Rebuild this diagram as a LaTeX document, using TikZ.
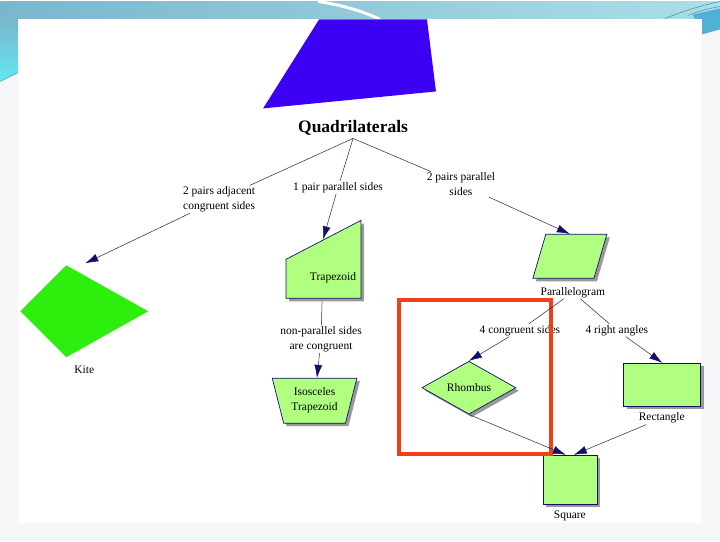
\documentclass[tikz,border=0pt]{standalone}
\usepackage{fontspec}
\setmainfont{Liberation Serif}
\usetikzlibrary{shapes.geometric, arrows.meta, shadows}
\definecolor{navy}{RGB}{16,16,106}
\definecolor{leaf}{RGB}{176,255,128}
\definecolor{kitegreen}{RGB}{45,238,12}
\definecolor{quadblue}{RGB}{60,0,245}
\definecolor{hilite}{RGB}{240,64,24}
\definecolor{bandA}{RGB}{122,182,206}
\definecolor{bandB}{RGB}{172,222,232}
\definecolor{cyanside}{RGB}{96,232,244}
\definecolor{cornerblue}{RGB}{80,176,214}
\definecolor{pagegray}{RGB}{244,246,247}
\definecolor{edgegray}{RGB}{36,36,72}

\tikzset{
  shapebox/.style={draw=navy, fill=leaf, line width=0.7pt, inner sep=0pt,
    drop shadow={shadow xshift=3pt, shadow yshift=-3pt, fill=black!40, opacity=1}},
  lbl/.style={align=center, font=\fontsize{11.5}{15}\selectfont, inner sep=1pt},
  conn/.style={edgegray, line width=0.5pt},
  arr/.style={conn, -{Latex[length=13pt, width=8pt, color=navy]}}
}

\begin{document}
\begin{tikzpicture}[x=1pt, y=-1pt]
      % slide background
      \fill[pagegray] (0,0) rectangle (720,540);
      \shade[left color=bandA, right color=bandB] (0,0) rectangle (720,18);
      \shade[top color=bandA, bottom color=cyanside] (0,18) -- (18,18) -- (18,71) -- (0,80) -- cycle;
      \draw[teal!70, line width=0.6pt] (0,80) -- (18,71);
      \draw[white, line width=3pt] (318,0) .. controls (345,4) and (366,11) .. (380,18);
      \fill[cornerblue] (693,13) -- (720,7) -- (720,28) -- (702,33) -- cycle;
      \draw[cornerblue!80!black, line width=0.5pt] (665,17) .. controls (685,9) and (702,4) .. (720,0);
      \draw[cornerblue!80!black, line width=0.5pt] (688,14) .. controls (700,9) and (710,7) .. (720,5);
      \fill[white] (18,18) rectangle (702,522);

      % shapes
      \fill[quadblue] (319,18) -- (427,18) -- (436,90) -- (263,107) -- cycle;
      \node[font=\bfseries\fontsize{17.5}{20}\selectfont] (quad) at (353,126) {Quadrilaterals};

      \fill[kitegreen] (20,310) -- (66,264) -- (148,310) -- (66,356) -- cycle;
      \node[lbl] (kitel) at (84,369) {Kite};
      \coordinate (kitetip) at (85,262);

      \filldraw[shapebox] (286,258) -- (361,219) -- (361,297) -- (286,297) -- cycle;
      \node[lbl] (trap) at (333,276) {Trapezoid};
      \coordinate (traptop) at (323,238);
      \coordinate (trapbot) at (322,300);

      \node[shapebox, trapezium, trapezium left angle=72, trapezium right angle=72, shape border rotate=180,
            trapezium stretches=true, minimum width=85pt, minimum height=45pt, lbl] (iso) at (314.5,399.5) {Isosceles\\Trapezoid};

      \node[shapebox, trapezium, trapezium left angle=75, trapezium right angle=105, inner sep=2pt,
            trapezium stretches=true, minimum width=74pt, minimum height=44pt] (para) at (570,255) {};
      \node[lbl] (parl) at (573,291) {Parallelogram};

      \node[shapebox, diamond, aspect=1.77, minimum width=94pt, minimum height=53pt, lbl] (rhomb) at (469,386.5) {Rhombus};
      \node[shapebox, rectangle, minimum width=77pt, minimum height=43pt] (rect) at (662.5,383.5) {};
      \node[lbl] (rectl) at (662,417) {Rectangle};
      \node[shapebox, rectangle, minimum width=54pt, minimum height=49pt] (sq) at (570,478.5) {};
      \node[lbl] (sql) at (570,515) {Square};

      % edge labels
      \node[lbl] (adjl) at (219,198) {2 pairs adjacent\\congruent sides};
      \node[lbl] (onel) at (338,186) {1 pair parallel sides};
      \node[lbl] (twol) at (461,183) {2 pairs parallel\\sides};
      \node[lbl] (nonp) at (321,338) {non-parallel sides\\are congruent};
      \node[lbl] (cong) at (520,329) {4 congruent sides};
      \node[lbl] (rght) at (617,329) {4 right angles};

      \draw[hilite, line width=4pt] (399,299) rectangle (551,453);

      \draw[conn] (quad.south) -- (adjl);
      \draw[arr ] (adjl)       -- (kitetip);
      \draw[conn] (quad.south) -- (onel);
      \draw[arr ] (onel)       -- (traptop);
      \draw[conn] (quad.south) -- (twol);
      \draw[arr ] (twol)       -- (para.north);
      \draw[conn] (trapbot)    -- (nonp);
      \draw[arr ] (nonp)       -- (iso);
      \draw[conn] (parl)       -- (cong);
      \draw[conn] (parl)       -- (rght);
      \draw[arr ] (cong)       -- (rhomb.north);
      \draw[arr ] (rght)       -- (rect.north);
      \draw[arr ] (rhomb.south) -- ([xshift=-4pt]sq.north);
      \draw[arr ] (rectl)      -- ([xshift=4pt]sq.north);
\end{tikzpicture}
\end{document}
